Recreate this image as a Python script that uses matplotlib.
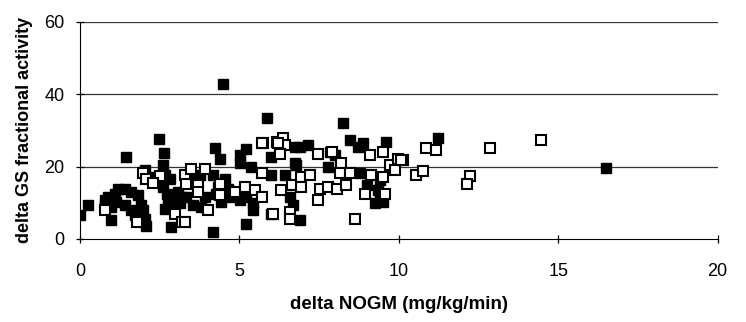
import numpy as np
import matplotlib.pyplot as plt

plt.rcParams['font.family'] = ['Liberation Sans', 'DejaVu Sans']

# filled squares
x_filled = [0.0, 0.26, 0.97, 0.78, 0.89, 1.10, 1.20, 1.41, 1.62, 1.83, 1.93, 1.62, 1.41,
            1.15, 0.99, 0.78, 1.72, 1.98, 2.04, 2.07, 2.85, 1.46, 2.49, 2.64, 2.04, 2.40,
            2.61, 2.66, 2.82, 2.61, 2.72, 2.77, 2.66, 2.92, 3.08, 3.19, 2.92, 3.13, 4.23,
            5.22, 4.39, 5.02, 5.02, 5.38, 6.01, 6.74, 3.76, 3.45, 4.18, 4.55, 4.34, 4.65,
            3.34, 3.54, 3.92, 4.28, 4.44, 4.75, 5.02, 5.22, 5.43, 5.43, 6.01, 6.01, 6.43,
            6.58, 6.69, 5.22, 4.18, 6.74, 3.81, 4.5, 5.88, 8.25, 6.90, 7.16, 8.46, 8.72,
            8.88, 9.61, 7.84, 8.00, 6.79, 7.78, 8.78, 8.99, 9.40, 9.35, 9.25, 9.51, 9.40,
            6.90, 11.23, 16.5]
y_filled = [6.5, 9.3, 5.1, 10.7, 11.6, 12.5, 13.9, 13.9, 13.0, 12.1, 9.3, 7.9, 9.3,
            10.2, 8.8, 9.3, 6.5, 7.9, 5.6, 3.6, 3.3, 22.7, 27.6, 23.8, 19.0, 17.1,
            20.4, 17.6, 16.7, 14.4, 12.5, 10.2, 8.4, 8.8, 13.0, 11.6, 10.7, 9.8, 25.0,
            24.8, 22.2, 23.2, 20.9, 19.9, 22.7, 25.5, 17.6, 17.1, 17.6, 16.7, 14.4, 13.9,
            11.6, 9.3, 11.6, 12.5, 10.2, 11.6, 10.7, 11.6, 9.8, 7.9, 17.6, 7.0, 17.6,
            11.6, 9.3, 4.2, 1.9, 20.9, 8.8, 42.7, 33.3, 32.0, 25.5, 25.9, 27.3, 25.5,
            26.4, 26.9, 24.1, 23.2, 20.4, 19.9, 18.1, 14.8, 16.2, 13.5, 9.8, 10.2, 12.1,
            5.1, 28.0, 19.5]

# open squares
x_open = [1.98, 2.09, 0.78, 1.78, 2.98, 3.19, 3.29, 5.75, 6.17, 6.38, 6.43, 6.27, 3.50,
          3.92, 3.34, 3.71, 3.71, 4.02, 4.39, 4.39, 4.86, 5.17, 5.49, 5.70, 5.70, 6.32,
          6.64, 6.58, 6.58, 6.06, 3.29, 7.47, 9.09, 9.51, 6.95, 7.21, 6.95, 7.52, 7.78,
          8.05, 8.20, 8.15, 8.46, 8.36, 9.14, 9.51, 8.93, 9.56, 7.47, 8.62, 9.72, 9.87,
          9.98, 10.13, 10.87, 11.18, 12.85, 10.08, 10.55, 10.76, 12.23, 12.15, 14.45,
          5.72, 6.22, 7.92, 2.5, 2.3]
y_open = [18.1, 16.7, 7.9, 4.7, 7.0, 4.7, 17.6, 26.4, 26.9, 27.8, 25.9, 23.6, 19.4,
          19.4, 15.3, 14.8, 13.0, 7.9, 15.3, 12.1, 13.0, 14.4, 13.5, 11.6, 18.1, 13.5,
          14.8, 7.4, 5.6, 7.0, 4.7, 23.6, 23.2, 24.1, 17.1, 17.6, 14.4, 13.9, 14.4,
          13.9, 20.9, 18.1, 18.1, 14.8, 17.6, 17.1, 12.5, 12.5, 10.7, 5.6, 20.4, 19.0,
          22.2, 21.8, 25.2, 24.5, 25.2, 21.8, 17.8, 18.7, 17.4, 15.3, 27.3,
          26.6, 26.6, 24.1, 17.5, 15.5]

fig = plt.figure(figsize=(7.46, 3.22), dpi=100)
ax = fig.add_axes([0.107, 0.258, 0.855, 0.674])

for yg in [20, 40, 60]:
    ax.axhline(yg, color='#333333', lw=0.9, zorder=1)

ax.plot(x_filled, y_filled, 's', ms=7, color='black', mec='black', zorder=3)
ax.plot(x_open, y_open, 's', ms=6.8, mfc='white', mec='black', mew=1.5, zorder=4)

ax.set_xlim(0, 20)
ax.set_ylim(0, 60)
ax.set_xticks([0, 5, 10, 15, 20])
ax.set_yticks([0, 20, 40, 60])
ax.spines['top'].set_visible(False)
ax.spines['right'].set_visible(False)
ax.tick_params(axis='both', direction='inout', length=6, width=0.9, labelsize=13)
ax.tick_params(axis='x', pad=14)
ax.tick_params(axis='y', pad=8)
ax.set_xlabel('delta NOGM (mg/kg/min)', fontsize=13.5, fontweight='bold', labelpad=12)
ax.set_ylabel('delta GS fractional activity', fontsize=13, fontweight='bold', labelpad=8)

plt.savefig('out.png', dpi=100)
